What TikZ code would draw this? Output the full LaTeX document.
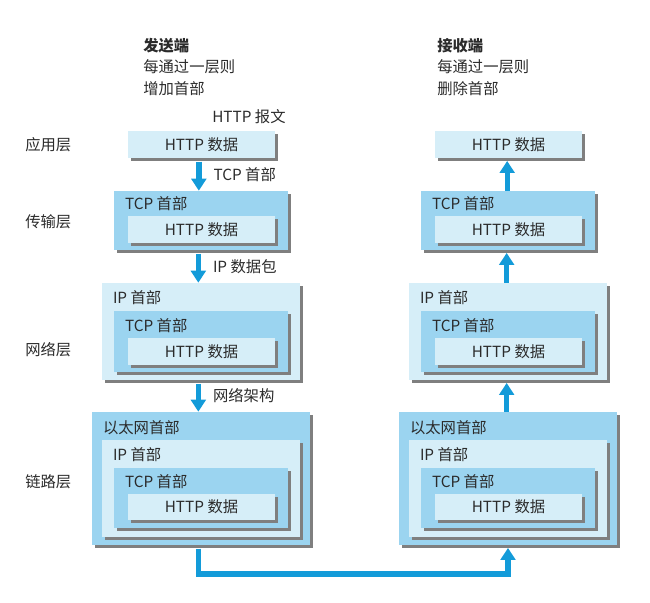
\documentclass[tikz,border=0pt]{standalone}
\usepackage{fontspec}
\setmainfont{Noto Sans CJK SC}
\usetikzlibrary{arrows.meta,positioning,shadows,calc,fit}
\definecolor{stackdark}{HTML}{9BD4F0}
\definecolor{stacklight}{HTML}{D6EEF8}
\definecolor{stackarrow}{HTML}{139BD9}
\definecolor{stackshadow}{HTML}{7F7F7F}
\definecolor{stacktext}{HTML}{2B2B2B}

\begin{document}
\begin{tikzpicture}[x=0.75pt,y=-0.75pt,font=\fontsize{11.5}{16}\selectfont,text=stacktext]
    \tikzstyle{pkt}=[inner sep=0pt,drop shadow={shadow xshift=2pt,shadow yshift=-2pt,fill=stackshadow,opacity=1}]
    \tikzstyle{hdr}=[anchor=west,inner sep=0pt]
    \tikzstyle{flow}=[draw=stackarrow,line width=4pt,-{Triangle[width=11pt,length=9pt]}]
    \useasboundingbox (0,0) rectangle (650,603);
    % sender stack on the left, receiver stack shifted to the right
    \foreach \s/\dx in {s/0,r/307} {
        \node[pkt,fill=stacklight,fit={(128+\dx,131) (275+\dx,158)}] (\s app) {};
        \node[inner sep=0pt] (\s appt) at (\s app) {HTTP 数据};
        \node[pkt,fill=stackdark,fit={(114+\dx,191) (288+\dx,250)}] (\s tcp) {};
        \node[hdr] (\s tcphd) at ($(\s tcp.north west)+(11,13)$) {TCP 首部};
        \node[pkt,fill=stacklight,fit={(128+\dx,216) (275+\dx,243)}] (\s tcpdata) {};
        \node[inner sep=0pt] (\s tcpdatat) at (\s tcpdata) {HTTP 数据};
        \node[pkt,fill=stacklight,fit={(102+\dx,283) (300+\dx,380)}] (\s ip) {};
        \node[hdr] (\s iphd) at ($(\s ip.north west)+(11,15)$) {IP 首部};
        \node[pkt,fill=stackdark,fit={(114+\dx,311) (288+\dx,372)}] (\s iptcp) {};
        \node[hdr] (\s iptcphd) at ($(\s iptcp.north west)+(11,15)$) {TCP 首部};
        \node[pkt,fill=stacklight,fit={(128+\dx,338) (275+\dx,365)}] (\s ipdata) {};
        \node[inner sep=0pt] (\s ipdatat) at (\s ipdata) {HTTP 数据};
        \node[pkt,fill=stackdark,fit={(92+\dx,412) (310+\dx,545)}] (\s eth) {};
        \node[hdr] (\s ethhd) at ($(\s eth.north west)+(11,16)$) {以太网首部};
        \node[pkt,fill=stacklight,fit={(102+\dx,440) (300+\dx,537)}] (\s ethip) {};
        \node[hdr] (\s ethiphd) at ($(\s ethip.north west)+(11,15)$) {IP 首部};
        \node[pkt,fill=stackdark,fit={(114+\dx,468) (288+\dx,528)}] (\s ethtcp) {};
        \node[hdr] (\s ethtcphd) at ($(\s ethtcp.north west)+(11,14)$) {TCP 首部};
        \node[pkt,fill=stacklight,fit={(128+\dx,494) (275+\dx,520)}] (\s ethdata) {};
        \node[inner sep=0pt] (\s ethdatat) at (\s ethdata) {HTTP 数据};
    }
    % layer names
    \node[hdr] (applayer) at (25,145) {应用层};
    \node[hdr] (tcplayer) at (25,222) {传输层};
    \node[hdr] (iplayer) at (25,350) {网络层};
    \node[hdr] (linklayer) at (25,482) {链路层};
    % notes
    \node[anchor=north west,align=left,inner sep=0pt] (sendnote) at (143,38) {\textbf{发送端}\\每通过一层则\\增加首部};
    \node[anchor=north west,align=left,inner sep=0pt] (recvnote) at (437,38) {\textbf{接收端}\\每通过一层则\\删除首部};
    \node[hdr] (msgnote) at (212,117) {HTTP 报文};
    % going down on the sender side
    \draw[flow,shorten <=2.5pt] ([xshift=-2pt]sapp.south) -- ([xshift=-2pt]sapp.south |- stcp.north) node[midway,right=9pt,inner sep=0pt] (tcpnote) {TCP 首部};
    \draw[flow,shorten <=2.5pt] ([xshift=-2pt]stcp.south) -- ([xshift=-2pt]stcp.south |- sip.north) node[midway,right=9pt,inner sep=0pt] (ipnote) {IP 数据包};
    \draw[flow,shorten <=2.5pt] ([xshift=-2pt]sip.south) -- ([xshift=-2pt]sip.south |- seth.north) node[midway,right=9pt,inner sep=0pt] (ethnote) {网络架构};
    % across the wire
    \coordinate (wire) at (0,574);
    \draw[flow,shorten <=2.5pt,shorten >=2pt] ([xshift=-2pt]seth.south) -- ([xshift=-2pt]seth.south |- wire) -- (reth.south |- wire) -- (reth.south);
    % going up on the receiver side
    \draw[flow,shorten >=2pt] ([xshift=-1pt]rip.south |- reth.north) -- ([xshift=-1pt]rip.south);
    \draw[flow,shorten >=2pt] ([xshift=-1pt]rtcp.south |- rip.north) -- ([xshift=-1pt]rtcp.south);
    \draw[flow,shorten >=2pt] ([xshift=-1pt]rapp.south |- rtcp.north) -- ([xshift=-1pt]rapp.south);
\end{tikzpicture}
\end{document}
